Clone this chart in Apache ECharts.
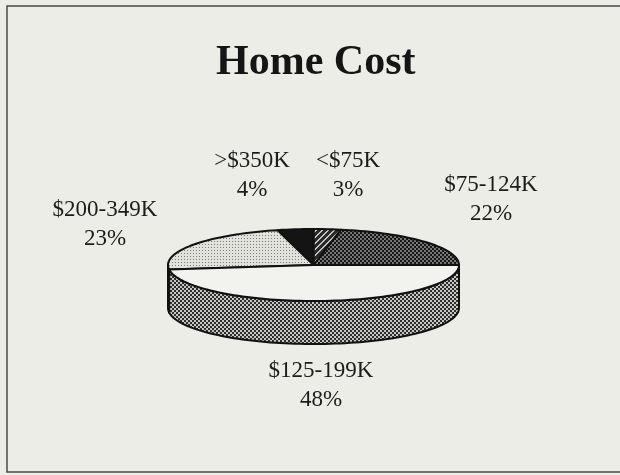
<!DOCTYPE html>
<html>
<head>
<meta charset="utf-8">
<title>Home Cost</title>
<script src="https://cdn.jsdelivr.net/npm/echarts@6/dist/echarts.min.js"></script>
<style>
  html, body { margin: 0; padding: 0; background: #ecede7; }
  #chart { width: 620px; height: 475px; }
</style>
</head>
<body>
<div id="chart"></div>
<script>
// slices, counter-clockwise from 3 o'clock
const categories = ['$75-124K', '<$75K', '>$350K', '$200-349K', '$125-199K']
const shares = [22, 3, 4, 23, 48]

// where each two-line label sits (label centre, px)
const labelSpots = [[491, 199], [348, 175], [252, 175], [105, 224], [321, 385]]

// flattened disc
const PIE = { cx: 313.5, cy: 265, rx: 145.5, ry: 36, depth: 43 }

// small tiles for the halftone look of the scan
function tile(size, base, dots) {
  const c = document.createElement('canvas')
  c.width = size
  c.height = size
  const ctx = c.getContext('2d')
  ctx.fillStyle = base
  ctx.fillRect(0, 0, size, size)
  dots.forEach(d => {
    ctx.fillStyle = d[2]
    ctx.fillRect(d[0], d[1], d[3] || 1, d[3] || 1)
  })
  return { image: c, repeat: 'repeat' }
}
function checker(dark, light) {
  return tile(4, light, [[0, 0, dark, 2], [2, 2, dark, 2]])
}
function hatch(dark, light) {
  const pts = []
  for (let k = 0; k < 6; k++) {
    pts.push([k, 5 - k, light], [(k + 1) % 6, 5 - k, light])
  }
  return tile(6, dark, pts)
}

const topFills = [
  checker('#161616', '#777777'),
  hatch('#2a2a2a', '#c4c4c0'),
  '#141414',
  tile(3, '#e2e2dd', [[1, 1, '#7c7c7a']]),
  '#f2f2ee'
]
const sideFills = [
  checker('#101010', '#555555'),
  '#222222',
  '#111111',
  tile(3, '#b4b4b0', [[1, 1, '#555555']]),
  checker('#2e2e2e', '#c6c6c2')
]

const total = shares.reduce((s, v) => s + v, 0)
const startAngles = []
shares.reduce((acc, v) => {
  startAngles.push(acc / total * 360)
  return acc + v
}, 0)

function rimPoint(deg, drop) {
  const r = deg * Math.PI / 180
  return [PIE.cx + PIE.rx * Math.cos(r), PIE.cy - PIE.ry * Math.sin(r) + drop]
}
function arc(a, b, drop) {
  const pts = []
  const n = Math.max(2, Math.ceil((b - a) / 2))
  for (let i = 0; i <= n; i++) {
    pts.push(rimPoint(a + (b - a) * i / n, drop))
  }
  return pts
}

const outline = { stroke: '#111111', lineWidth: 2, lineJoin: 'round' }

function renderSlice(params) {
  const i = params.dataIndex
  const a = startAngles[i]
  const b = a + shares[i] / total * 360
  const children = []

  // rim only shows on the front half
  const s = Math.max(a, 180)
  const e = Math.min(b, 360)
  if (e > s) {
    children.push({
      type: 'polygon',
      shape: { points: arc(s, e, 0).concat(arc(s, e, PIE.depth).reverse()) },
      style: Object.assign({ fill: sideFills[i] }, outline)
    })
  }
  children.push({
    type: 'polygon',
    shape: { points: [[PIE.cx, PIE.cy]].concat(arc(a, b, 0)) },
    style: Object.assign({ fill: topFills[i] }, outline)
  })
  children.push({
    type: 'text',
    x: labelSpots[i][0],
    y: labelSpots[i][1],
    style: {
      text: categories[i] + '\n' + shares[i] + '%',
      fill: '#1c1c1c',
      fontSize: 23,
      fontFamily: '"Liberation Serif", "Times New Roman", serif',
      align: 'center',
      verticalAlign: 'middle',
      lineHeight: 29
    }
  })
  return { type: 'group', children }
}

const chart = echarts.init(document.getElementById('chart'), null, { renderer: 'canvas' })
chart.setOption({
  backgroundColor: '#ecede7',
  animation: false,
  title: {
    text: 'Home Cost',
    left: 216,
    top: 42,
    padding: 0,
    textStyle: {
      color: '#151515',
      fontSize: 42,
      fontWeight: 'bold',
      fontFamily: '"Liberation Serif", "Times New Roman", serif'
    }
  },
  graphic: [{
    type: 'rect',
    shape: { x: 7, y: 6, width: 620, height: 466 },
    style: { fill: 'none', stroke: '#4a4a4a', lineWidth: 1.5 },
    silent: true
  }],
  series: [{
    type: 'custom',
    coordinateSystem: 'none',
    renderItem: renderSlice,
    data: shares.map((v, i) => ({ name: categories[i], value: v }))
  }]
})
</script>
</body>
</html>
